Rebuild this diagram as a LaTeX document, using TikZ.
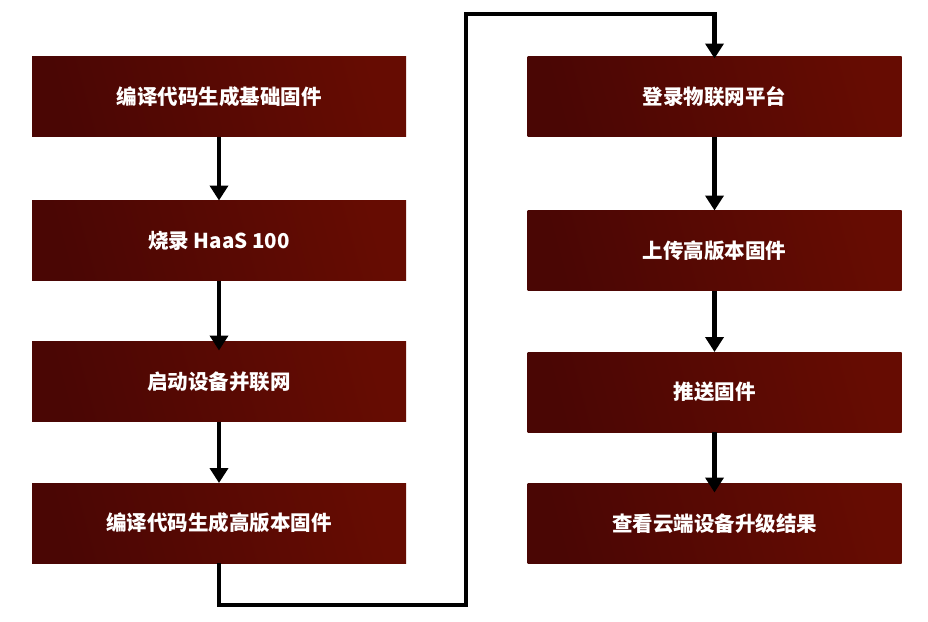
\documentclass[tikz,border=0pt]{standalone}
\usepackage{fontspec}
\newfontfamily\cjk{Noto Sans CJK SC}
\usetikzlibrary{arrows.meta}
\definecolor{boxdark}{RGB}{74,6,4}
\definecolor{boxlight}{RGB}{102,12,2}
\begin{document}
\begin{tikzpicture}[x=1pt,y=-1pt,
 stepbox/.style={left color=boxdark,right color=boxlight,shading angle=105,minimum width=374pt,minimum height=80pt,inner sep=0pt,outer sep=0pt,text=white,font=\cjk\bfseries\fontsize{20.5}{24}\selectfont},
 flow/.style={-{Triangle[width=18pt,length=15pt]},line width=4.5pt,black}]
 \path[use as bounding box,fill=white] (0,0) rectangle (928,621);
 % left column
 \node[stepbox] (l1) at (219,96.5){编译代码生成基础固件};
 \node[stepbox] (l2) at (219,240.5){烧录 HaaS 100};
 \node[stepbox] (l3) at (219,381.5){启动设备并联网};
 \node[stepbox] (l4) at (219,523){编译代码生成高版本固件};
 % right column
 \node[stepbox] (r1) at (714.5,96.5){登录物联网平台};
 \node[stepbox] (r2) at (714.5,250.5){上传高版本固件};
 \node[stepbox] (r3) at (714.5,392){推送固件};
 \node[stepbox] (r4) at (714.5,523.5){查看云端设备升级结果};
 \draw[flow] (l1)--(l2);
 \draw[flow,shorten >=-9pt] (l2)--(l3);
 \draw[flow] (l3)--(l4);
 \draw[flow] (r1)--(r2);
 \draw[flow] (r2)--(r3);
 \draw[flow,shorten >=-9pt] (r3)--(r4);
 \coordinate (b1) at (219,605);
 \coordinate (b2) at (466,605);
 \coordinate (b3) at (466,14);
 \coordinate (b4) at (714.5,14);
 \draw[flow,line join=miter] (l4.south)--(b1)--(b2)--(b3)--(b4)--([yshift=-2pt]r1.north);
\end{tikzpicture}
\end{document}
